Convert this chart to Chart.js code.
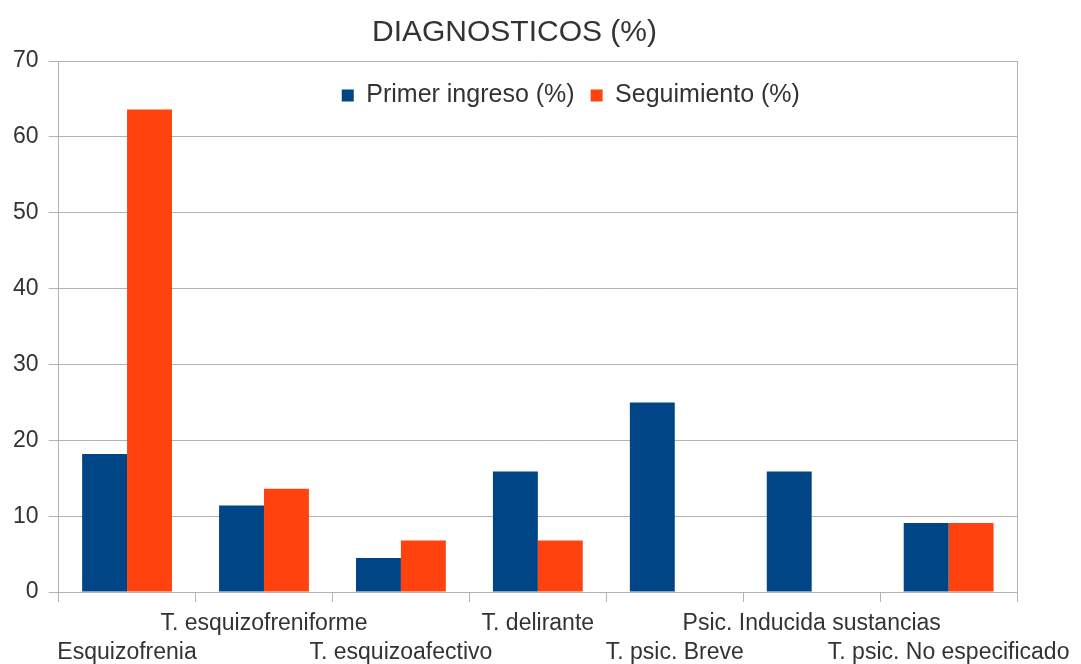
<!DOCTYPE html>
<html>
<head>
<meta charset="utf-8">
<script src="https://cdn.jsdelivr.net/npm/chart.js@4"></script>
<style>
  html, body { margin: 0; padding: 0; background: #fff; }
  #wrap { width: 1081px; height: 664px; position: relative; }
</style>
</head>
<body>
<div id="wrap"><canvas id="diagChart"></canvas></div>
<script>
// Datos del gráfico
const categorias = ['Esquizofrenia', 'T. esquizofreniforme', 'T. esquizoafectivo', 'T. delirante',
    'T. psic. Breve', 'Psic. Inducida sustancias', 'T. psic. No especificado'];
const primerIngreso = [18.2, 11.4, 4.5, 15.9, 25.0, 15.9, 9.1];
const seguimiento = [63.6, 13.6, 6.8, 6.8, 0, 0, 9.1];
const ticksY = [0, 10, 20, 30, 40, 50, 60, 70];

const gris = '#b3b3b3';
const texto = '#333333';
const fuente = 'Liberation Sans, Arial, sans-serif';

// Leyenda dentro del área del gráfico (no ocupa espacio en el layout)
const leyendaDentro = {
    id: 'leyendaDentro',
    beforeLayout(chart) {
        const legend = chart.legend;
        if (!legend || legend._dentro) return;
        legend._dentro = true;
        const fit = legend.fit;
        legend.fit = function () { fit.call(this); this.height = 0; };
        legend.draw = function () { if (this.options.display) this._draw(); };
    },
    afterLayout(chart) {
        // un poco a la derecha, como en el original
        chart.legend.left += 33;
        chart.legend.right += 33;
    }
};

const ctx = document.getElementById('diagChart');
new Chart(ctx, {
    type: 'bar',
    data: {
        labels: categorias,
        datasets: [{
            label: 'Primer ingreso (%)',
            data: primerIngreso,
            backgroundColor: '#004586'
        }, {
            label: 'Seguimiento (%)',
            data: seguimiento,
            backgroundColor: '#ff420e'
        }]
    },
    options: {
        responsive: true,
        maintainAspectRatio: false,
        animation: false,
        layout: { padding: { left: 3, right: 55, top: 0, bottom: -10 } },
        datasets: {
            bar: { categoryPercentage: 0.656, barPercentage: 1.0 }
        },
        plugins: {
            title: {
                display: true,
                text: 'DIAGNOSTICOS (%)',
                color: texto,
                font: { family: fuente, size: 30, weight: 'normal', lineHeight: 1.2 },
                padding: { top: 15, bottom: 10 }
            },
            legend: {
                display: true,
                position: 'top',
                fullSize: false,
                title: { display: true, text: '', font: { size: 6, lineHeight: 1 }, padding: 0 },
                labels: {
                    color: texto,
                    font: { family: fuente, size: 25 },
                    boxWidth: 12,
                    boxHeight: 12,
                    padding: 16
                }
            },
            tooltip: { enabled: false }
        },
        scales: {
            x: {
                grid: { drawOnChartArea: false, drawTicks: true, tickLength: 10, color: gris, offset: true },
                border: { color: gris },
                ticks: {
                    autoSkip: false,
                    maxRotation: 0,
                    minRotation: 0,
                    padding: 7,
                    color: texto,
                    font: { family: fuente, size: 23, lineHeight: 1.26 },
                    callback: function (value, index) {
                        const etiqueta = categorias[index];
                        return index % 2 === 0 ? ['', etiqueta] : [etiqueta, ''];
                    }
                }
            },
            y: {
                min: ticksY[0],
                max: ticksY[ticksY.length - 1],
                afterBuildTicks: function (scale) {
                    scale.ticks = ticksY.map(v => ({ value: v }));
                },
                grid: { color: gris, tickLength: 10 },
                border: { color: gris },
                ticks: {
                    padding: 10,
                    color: texto,
                    font: { family: fuente, size: 23 }
                }
            },
            y2: {
                position: 'right',
                display: true,
                grid: { display: false },
                ticks: { display: false },
                border: { color: gris }
            }
        }
    },
    plugins: [leyendaDentro]
});
</script>
</body>
</html>
